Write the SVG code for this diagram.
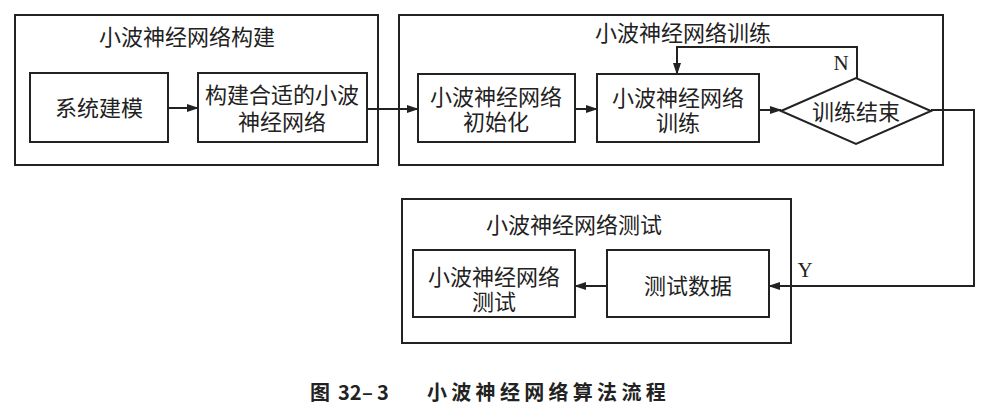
<svg xmlns="http://www.w3.org/2000/svg" width="986" height="412" viewBox="0 0 986 412">
<style>
.box{fill:none;stroke:#222;stroke-width:2}
.grp{fill:none;stroke:#222;stroke-width:2}
.t{font-family:"Noto Sans CJK SC","Noto Sans",sans-serif;font-size:22px;fill:#222;text-anchor:middle}
.l{font-family:"Liberation Serif",serif;font-size:21px;fill:#222;text-anchor:middle}
.c{font-family:"Noto Sans CJK SC","Noto Sans",sans-serif;font-size:20px;font-weight:bold;fill:#222}
.e{fill:none;stroke:#222;stroke-width:2}
</style>
<defs>
<marker id="ar" markerWidth="12" markerHeight="8" refX="11" refY="4" orient="auto" markerUnits="userSpaceOnUse">
<path d="M0,0 L12,4 L0,8 Z" fill="#222"/>
</marker>
</defs>
<rect width="986" height="412" fill="#fff"/>
<g id="grp-build">
<rect class="grp" x="15" y="15" width="363" height="150"/>
<text class="t" x="187" y="45">小波神经网络构建</text>
</g>
<g id="grp-train">
<rect class="grp" x="399" y="15" width="544" height="150"/>
<text class="t" x="683" y="41">小波神经网络训练</text>
</g>
<g id="grp-test">
<rect class="grp" x="402" y="199" width="389" height="144"/>
<text class="t" x="574" y="233">小波神经网络测试</text>
</g>
<g id="n-model">
<rect class="box" x="30" y="73" width="138" height="69"/>
<text class="t" x="99" y="116">系统建模</text>
</g>
<g id="n-construct">
<rect class="box" x="198" y="73" width="169" height="69"/>
<text class="t" x="282" y="103">构建合适的小波</text>
<text class="t" x="282" y="130">神经网络</text>
</g>
<g id="n-init">
<rect class="box" x="418" y="74" width="157" height="68"/>
<text class="t" x="496" y="105">小波神经网络</text>
<text class="t" x="496" y="130">初始化</text>
</g>
<g id="n-train">
<rect class="box" x="597" y="74" width="162" height="68"/>
<text class="t" x="678" y="106">小波神经网络</text>
<text class="t" x="678" y="131">训练</text>
</g>
<g id="n-end">
<polygon class="box" points="781,111 856,78 931,111 856,144"/>
<text class="t" x="856" y="120">训练结束</text>
</g>
<g id="n-data">
<rect class="box" x="607" y="250" width="162" height="67"/>
<text class="t" x="688" y="294">测试数据</text>
</g>
<g id="n-test">
<rect class="box" x="413" y="250" width="162" height="67"/>
<text class="t" x="494" y="285">小波神经网络</text>
<text class="t" x="494" y="310">测试</text>
</g>
<g id="connectors">
<line class="e" x1="168" y1="108" x2="198" y2="108" marker-end="url(#ar)"/>
<line class="e" x1="367" y1="109" x2="418" y2="109" marker-end="url(#ar)"/>
<line class="e" x1="575" y1="109" x2="597" y2="109" marker-end="url(#ar)"/>
<line class="e" x1="759" y1="110" x2="781" y2="110" marker-end="url(#ar)"/>
<polyline class="e" points="857,78 857,47 677,47 677,74" marker-end="url(#ar)"/>
<polyline class="e" points="931,110 974,110 974,286 769,286" marker-end="url(#ar)"/>
<line class="e" x1="607" y1="286" x2="575" y2="286" marker-end="url(#ar)"/>
<text class="l" x="841" y="70">N</text>
<text class="l" x="805" y="277">Y</text>
</g>
<text class="c" y="400"><tspan x="310">图</tspan><tspan x="338">32</tspan><tspan x="362">–</tspan><tspan x="377">3</tspan></text>
<text class="c" x="427" y="400" font-size="21" letter-spacing="4.3">小波神经网络算法流程</text>
</svg>
